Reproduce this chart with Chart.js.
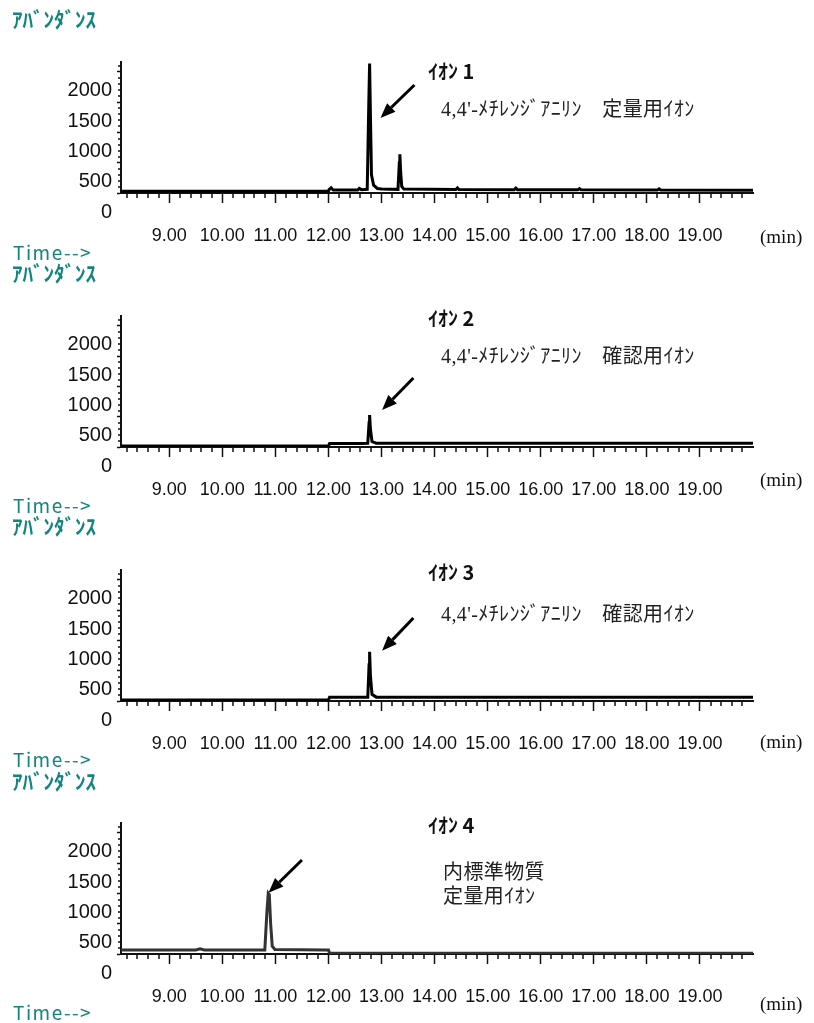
<!DOCTYPE html>
<html lang="ja">
<head>
<meta charset="utf-8">
<title>4,4'-メチレンジアニリン イオンクロマトグラム</title>
<script src="https://cdn.jsdelivr.net/npm/chart.js@4/dist/chart.umd.min.js"></script>
<style>
  body { margin: 0; background: #fff; width: 814px; height: 1023px; position: relative; overflow: hidden; }
  .panel { position: absolute; left: 0; width: 814px; height: 254px; }
  .panel canvas { position: absolute; left: 0; top: 0; }
  .lbl { position: absolute; white-space: pre; line-height: 1; }
  .teal { color: #12857f; font-family: "Noto Sans CJK JP", sans-serif; font-weight: bold; font-size: 21px; }
  .time { color: #12857f; font-family: "Noto Sans CJK JP", sans-serif; font-size: 19px; letter-spacing: 1.5px; }
  .ion { color: #111; font-family: "Noto Sans CJK JP", sans-serif; font-weight: bold; font-size: 20px; }
  .note { color: #222; font-family: "Liberation Serif", "Noto Sans CJK JP", serif; font-size: 20px; letter-spacing: 0.4px; }
  .unit { color: #111; font-family: "Liberation Serif", serif; font-size: 19px; }
</style>
</head>
<body>

<div class="panel" style="top:0px">
  <canvas id="c1" width="814" height="254"></canvas>
  <div class="lbl teal" style="left:12px; top:8px">ｱﾊﾞﾝﾀﾞﾝｽ</div>
  <div class="lbl ion" style="left:428px; top:61px">ｲｵﾝ 1</div>
  <div class="lbl note" style="left:441px; top:99px">4,4'-ﾒﾁﾚﾝｼﾞｱﾆﾘﾝ　定量用ｲｵﾝ</div>
  <div class="lbl unit" style="left:760px; top:227px">(min)</div>
  <div class="lbl time" style="left:13px; top:242px">Time--&gt;</div>
</div>

<div class="panel" style="top:254px">
  <canvas id="c2" width="814" height="254"></canvas>
  <div class="lbl teal" style="left:12px; top:8px">ｱﾊﾞﾝﾀﾞﾝｽ</div>
  <div class="lbl ion" style="left:428px; top:54px">ｲｵﾝ 2</div>
  <div class="lbl note" style="left:441px; top:92px">4,4'-ﾒﾁﾚﾝｼﾞｱﾆﾘﾝ　確認用ｲｵﾝ</div>
  <div class="lbl unit" style="left:760px; top:216px">(min)</div>
  <div class="lbl time" style="left:13px; top:241px">Time--&gt;</div>
</div>

<div class="panel" style="top:508px">
  <canvas id="c3" width="814" height="254"></canvas>
  <div class="lbl teal" style="left:12px; top:7px">ｱﾊﾞﾝﾀﾞﾝｽ</div>
  <div class="lbl ion" style="left:428px; top:54px">ｲｵﾝ 3</div>
  <div class="lbl note" style="left:441px; top:96px">4,4'-ﾒﾁﾚﾝｼﾞｱﾆﾘﾝ　確認用ｲｵﾝ</div>
  <div class="lbl unit" style="left:760px; top:224px">(min)</div>
  <div class="lbl time" style="left:13px; top:241px">Time--&gt;</div>
</div>

<div class="panel" style="top:761px">
  <canvas id="c4" width="814" height="254"></canvas>
  <div class="lbl teal" style="left:12px; top:9px">ｱﾊﾞﾝﾀﾞﾝｽ</div>
  <div class="lbl ion" style="left:428px; top:54px">ｲｵﾝ 4</div>
  <div class="lbl note" style="left:443px; top:101px">内標準物質</div>
  <div class="lbl note" style="left:443px; top:125px">定量用ｲｵﾝ</div>
  <div class="lbl unit" style="left:760px; top:233px">(min)</div>
  <div class="lbl time" style="left:13px; top:241px">Time--&gt;</div>
</div>

<script>
// 目盛り
const timeTicks = [9, 10, 11, 12, 13, 14, 15, 16, 17, 18, 19];
const abundTicks = [0, 500, 1000, 1500, 2000];

// イオン 1 (定量用)
const times1 = [8.09, 12.0, 12.01, 12.05, 12.09, 12.3, 12.55, 12.58, 12.62, 12.73, 12.76, 12.775, 12.79, 12.81, 12.85, 12.92, 13.0,
  13.31, 13.335, 13.345, 13.36, 13.38, 13.42, 14.4, 14.43, 14.46, 15.5, 15.53, 15.56, 16.7, 16.73, 16.76, 18.2, 18.23, 18.26, 20.0];
const values1 = [28, 28, 55, 85, 50, 48, 50, 75, 55, 60, 1500, 2140, 1300, 300, 130, 75, 65,
  60, 500, 640, 350, 110, 65, 58, 85, 58, 55, 80, 55, 52, 72, 52, 50, 68, 50, 45];

// イオン 2 (確認用)
const times2 = [8.09, 12.0, 12.02, 12.6, 12.74, 12.765, 12.775, 12.79, 12.82, 12.9, 14.0, 16.0, 18.0, 20.0];
const values2 = [15, 15, 58, 58, 62, 400, 529, 300, 90, 62, 60, 62, 60, 60];

// イオン 3 (確認用)
const times3 = [8.09, 12.0, 12.02, 12.6, 12.74, 12.765, 12.775, 12.79, 12.82, 12.9, 14.0, 16.0, 18.0, 20.0];
const values3 = [15, 15, 60, 60, 62, 600, 815, 420, 110, 64, 62, 63, 61, 60];

// イオン 4 (内標準物質)
const times4 = [8.09, 9.5, 9.58, 9.66, 10.8, 10.84, 10.865, 10.885, 10.91, 10.94, 10.99, 11.95, 12.0, 12.02, 20.0];
const values4 = [66, 66, 85, 68, 68, 700, 1003, 980, 500, 130, 75, 68, 66, 12, 12];

const axisColor = '#111';

// 小目盛り
const minorTicks = {
  id: 'minorTicks',
  afterDraw(chart) {
    const { ctx, scales: { x, y } } = chart;
    ctx.save();
    ctx.strokeStyle = axisColor;
    ctx.lineWidth = 1.5;
    ctx.beginPath();
    for (let k = Math.ceil(x.min * 5); k <= Math.floor(x.max * 5); k++) {
      if (k % 5 === 0) continue;
      const px = Math.round(x.getPixelForValue(k / 5));
      ctx.moveTo(px, x.top);
      ctx.lineTo(px, x.top + 5);
    }
    for (let k = 1; k * 100 <= y.max; k++) {
      if (k % 5 === 0) continue;
      const py = Math.round(y.getPixelForValue(k * 100));
      ctx.moveTo(y.right - 3, py);
      ctx.lineTo(y.right, py);
    }
    ctx.stroke();
    ctx.restore();
  }
};

// ピークを指す矢印
const arrowPlugin = {
  id: 'arrow',
  afterDatasetsDraw(chart, args, opts) {
    if (!opts.from) return;
    const { ctx, scales: { x, y } } = chart;
    const x0 = x.getPixelForValue(opts.from[0]), y0 = y.getPixelForValue(opts.from[1]);
    const x1 = x.getPixelForValue(opts.to[0]), y1 = y.getPixelForValue(opts.to[1]);
    const a = Math.atan2(y1 - y0, x1 - x0);
    const head = 15, half = 6;
    const bx = x1 - head * Math.cos(a), by = y1 - head * Math.sin(a);
    ctx.save();
    ctx.strokeStyle = '#000';
    ctx.fillStyle = '#000';
    ctx.lineWidth = 3;
    ctx.beginPath();
    ctx.moveTo(x0, y0);
    ctx.lineTo(bx, by);
    ctx.stroke();
    ctx.beginPath();
    ctx.moveTo(x1, y1);
    ctx.lineTo(bx - half * Math.sin(a), by + half * Math.cos(a));
    ctx.lineTo(bx + half * Math.sin(a), by - half * Math.cos(a));
    ctx.closePath();
    ctx.fill();
    ctx.restore();
  }
};

function makePanel(id, times, values, color, arrow) {
  new Chart(document.getElementById(id), {
    type: 'line',
    data: {
      datasets: [{
        data: times.map((t, i) => ({ x: t, y: values[i] })),
        borderColor: color,
        borderWidth: 3,
        pointRadius: 0,
        tension: 0,
        fill: false
      }]
    },
    options: {
      responsive: false,
      animation: false,
      devicePixelRatio: 1,
      layout: { padding: { top: 62, left: 0, right: 61, bottom: 0 } },
      plugins: {
        legend: { display: false },
        tooltip: { enabled: false },
        arrow: arrow
      },
      scales: {
        x: {
          type: 'linear',
          min: 8.09,
          max: 20.0,
          afterBuildTicks: s => { s.ticks = timeTicks.map(v => ({ value: v })); },
          afterFit: s => { s.height = 61; },
          ticks: {
            callback: v => v.toFixed(2),
            padding: 22,
            font: { family: 'Liberation Sans', size: 18 },
            color: axisColor,
            maxRotation: 0,
            autoSkip: false
          },
          grid: { drawOnChartArea: false, tickLength: 10, tickWidth: 1.5, tickColor: axisColor },
          border: { color: axisColor, width: 2 }
        },
        y: {
          min: 0,
          max: 2165,
          afterBuildTicks: s => { s.ticks = abundTicks.map(v => ({ value: v })); },
          afterFit: s => { s.width = 121; },
          ticks: {
            callback: v => String(v),
            labelOffset: 19,
            padding: 5,
            font: { family: 'Liberation Sans', size: 20 },
            color: axisColor
          },
          grid: { drawOnChartArea: false, tickLength: 4, tickWidth: 1.5, tickColor: axisColor },
          border: { color: axisColor, width: 2 }
        }
      }
    },
    plugins: [minorTicks, arrowPlugin]
  });
}

makePanel('c1', times1, values1, '#000', { from: [13.62, 1785], to: [12.98, 1240] });
makePanel('c2', times2, values2, '#000', { from: [13.60, 1140], to: [13.01, 612] });
makePanel('c3', times3, values3, '#000', { from: [13.60, 1372], to: [13.01, 831] });
makePanel('c4', times4, values4, '#333', { from: [11.50, 1554], to: [10.87, 1013] });
</script>
</body>
</html>
